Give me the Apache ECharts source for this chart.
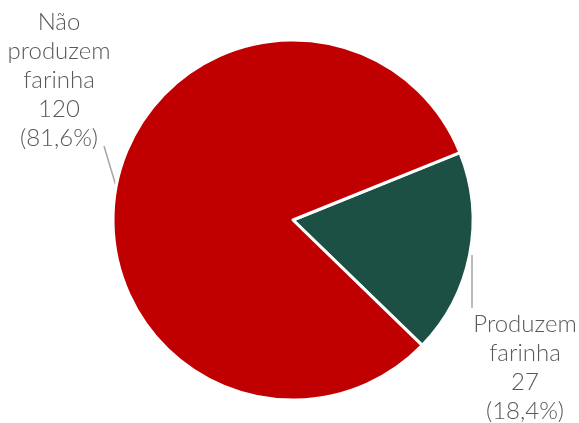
<!DOCTYPE html>
<html>
<head>
<meta charset="utf-8">
<script src="https://cdn.jsdelivr.net/npm/echarts@6/dist/echarts.min.js"></script>
<style>
  html, body { margin: 0; padding: 0; background: #fff; }
  #chart { width: 579px; height: 423px; }
</style>
</head>
<body>
<div id="chart"></div>
<script>
var categories = ['Produzem farinha', 'Não produzem farinha'];
var values = [27, 120];
var colors = ['#1D5045', '#C00000'];

var total = values.reduce(function (a, b) { return a + b; }, 0);

// where the labels and their leader lines sit (Excel-style placement)
var labelSpots = [
    { x: 525, y: 310, line: [[472, 255], [472, 308]] },
    { x: 59, y: 8, line: [[116, 186], [104, 146]] }
];

var myChart = echarts.init(document.getElementById('chart'));
myChart.setOption({
    animation: false,
    series: [{
        type: 'pie',
        center: [293, 220],
        radius: [0, 180],
        startAngle: 22,
        clockwise: true,
        itemStyle: {
            borderColor: '#fff',
            borderWidth: 3,
            color: function (item) {
                return colors[item.dataIndex];
            }
        },
        label: {
            show: true,
            position: 'outside',
            color: '#595959',
            fontFamily: 'Lato',
            fontWeight: 300,
            fontSize: 24,
            lineHeight: 29,
            align: 'center',
            overflow: 'none',
            width: 140,
            formatter: function (p) {
                var pct = (p.value / total * 100).toFixed(1).replace('.', ',');
                return p.name.split(' ').join('\n') + '\n' + p.value + '\n(' + pct + '%)';
            }
        },
        labelLine: {
            show: true,
            lineStyle: { color: '#A6A6A6', width: 1.5 }
        },
        labelLayout: function (params) {
            var s = labelSpots[params.dataIndex];
            return {
                x: s.x,
                y: s.y,
                align: 'center',
                verticalAlign: 'top',
                labelLinePoints: s.line
            };
        },
        data: categories.map(function (name, i) {
            return { name: name, value: values[i] };
        })
    }]
});
</script>
</body>
</html>
